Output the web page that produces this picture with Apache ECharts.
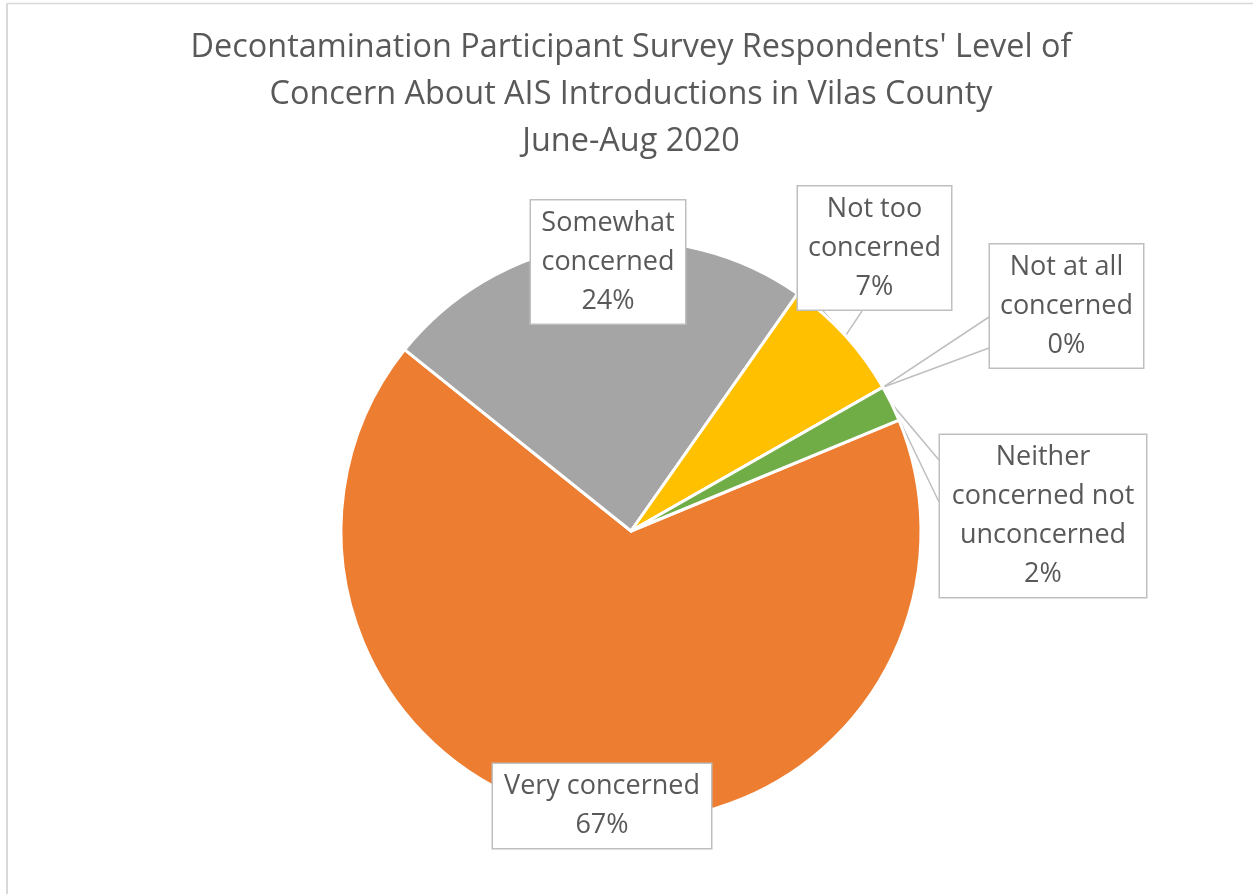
<!DOCTYPE html>
<html>
<head>
<meta charset="utf-8">
<script src="https://cdn.jsdelivr.net/npm/echarts@6/dist/echarts.min.js"></script>
<style>
  html, body { margin: 0; padding: 0; background: #ffffff; }
  #chart { width: 1253px; height: 894px; }
</style>
</head>
<body>
<div id="chart"></div>
<script>
// Survey answers, in slice order (clockwise)
const categories = ['Very concerned', 'Somewhat concerned', 'Not too concerned', 'Not at all concerned', 'Neither concerned not unconcerned'];
const labelTexts = ['Very concerned', 'Somewhat\nconcerned', 'Not too\nconcerned', 'Not at all\nconcerned', 'Neither\nconcerned not\nunconcerned'];
const percentValues = [67, 24, 7, 0, 2];
const sliceColors = ['#ED7D31', '#A5A5A5', '#FFC000', '#4472C4', '#70AD47'];
const titleLines = ["Decontamination Participant Survey Respondents' Level of", 'Concern About AIS Introductions in Vilas County', 'June-Aug 2020'];

// Pie geometry
const PIE_CX = 631, PIE_CY = 531, PIE_R = 290;

// Callout boxes: centre offset from the pie centre and outer size [dx, dy, w, h]
const calloutBoxes = [
  [-29, 275, 220, 87],
  [-23, -269, 156, 124],
  [243.5, -283, 155, 126],
  [435.5, -225, 155, 126],
  [412, -15, 208, 166]
];
// Callout pointer base points, relative to the box centre (null = no pointer)
const pointerBases = [
  null,
  null,
  [[-51.5, 63], [-12.5, 63]],
  [[-77.5, 11], [-77.5, 42]],
  [[-104, -56], [-104, -14]]
];

const PAD_X = 8, PAD_Y = 3;

const pieData = categories.map((name, i) => ({
  name: name,
  value: percentValues[i],
  itemStyle: { color: sliceColors[i] },
  label: { width: calloutBoxes[i][2] - 2 * PAD_X - 2 },
  labelLine: { show: pointerBases[i] !== null }
}));

const chart = echarts.init(document.getElementById('chart'), null, { renderer: 'canvas' });

chart.setOption({
  backgroundColor: '#ffffff',
  animation: false,
  title: {
    text: titleLines.join('\n'),
    left: PIE_CX,
    top: 24,
    textAlign: 'center',
    padding: 0,
    textStyle: {
      fontFamily: 'Open Sans',
      fontSize: 32.4,
      fontWeight: 'normal',
      color: '#595959',
      lineHeight: 47
    }
  },
  graphic: [
    { type: 'line', shape: { x1: 7, y1: 3.5, x2: 1253, y2: 3.5 }, style: { stroke: '#D9D9D9', lineWidth: 1.5 }, silent: true },
    { type: 'line', shape: { x1: 7, y1: 3.5, x2: 7, y2: 894 }, style: { stroke: '#D9D9D9', lineWidth: 2 }, silent: true }
  ],
  series: [{
    type: 'pie',
    center: [PIE_CX, PIE_CY],
    radius: PIE_R,
    startAngle: 22.5,
    clockwise: true,
    avoidLabelOverlap: false,
    minShowLabelAngle: 0,
    emphasis: { disabled: true },
    itemStyle: { borderColor: '#ffffff', borderWidth: 3 },
    label: {
      show: true,
      position: 'outside',
      formatter: (p) => labelTexts[p.dataIndex] + '\n' + p.value + '%',
      fontFamily: 'Open Sans',
      fontSize: 27,
      lineHeight: 39,
      color: '#595959',
      align: 'center',
      backgroundColor: '#ffffff',
      borderColor: '#BFBFBF',
      borderWidth: 1.5,
      padding: [PAD_Y + 3, PAD_X, PAD_Y - 3, PAD_X]
    },
    labelLine: {
      show: true,
      length: 10,
      length2: 10,
      lineStyle: { color: '#BFBFBF', width: 1.5 }
    },
    labelLayout: function (params) {
      const i = params.dataIndex;
      const box = calloutBoxes[i];
      const x = PIE_CX + box[0];
      const y = PIE_CY + box[1];
      const out = { x: x, y: y, align: 'center', verticalAlign: 'middle' };
      const bases = pointerBases[i];
      if (bases && params.labelLinePoints) {
        const tip = params.labelLinePoints[0];
        out.labelLinePoints = [
          [x + bases[0][0], y + bases[0][1]],
          [tip[0], tip[1]],
          [x + bases[1][0], y + bases[1][1]]
        ];
      }
      return out;
    },
    data: pieData
  }]
});
</script>
</body>
</html>
